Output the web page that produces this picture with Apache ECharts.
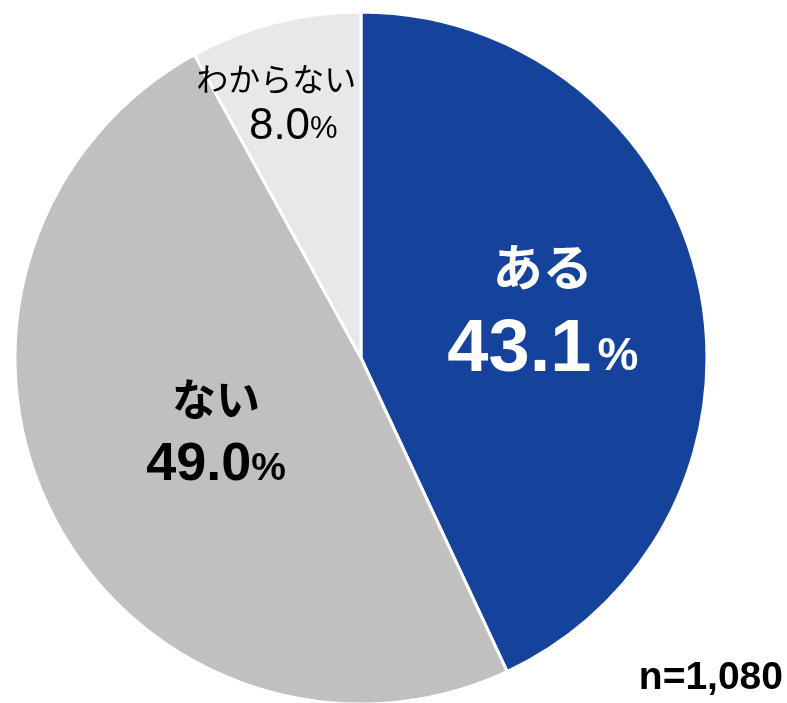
<!DOCTYPE html>
<html>
<head>
<meta charset="utf-8">
<script src="https://cdn.jsdelivr.net/npm/echarts@6/dist/echarts.min.js"></script>
<style>
  html, body { margin: 0; padding: 0; background: #fff; }
  #chart { width: 787px; height: 703px; }
</style>
</head>
<body>
<div id="chart"></div>
<script>
const categories = ['ある', 'ない', 'わからない']
const values = [43.1, 49.0, 8.0]
const colors = ['#15439b', '#c0c0c0', '#e8e8e8']
const sampleNote = 'n=1,080'

const numFont = '"Liberation Sans", Arial, sans-serif'
const jpFont = '"Noto Sans CJK JP", sans-serif'

// per-slice label styles (big / medium / small)
const labelRich = [
  {
    name: { fontFamily: jpFont, fontSize: 50, fontWeight: 'bold', color: '#fff', lineHeight: 84 },
    num: { fontFamily: numFont, fontSize: 74, fontWeight: 'bold', color: '#fff', lineHeight: 84 },
    pct: { fontFamily: numFont, fontSize: 46, fontWeight: 'bold', color: '#fff', lineHeight: 84, padding: [12, 0, 0, 6] }
  },
  {
    name: { fontFamily: jpFont, fontSize: 44, fontWeight: 'bold', color: '#000', lineHeight: 66 },
    num: { fontFamily: numFont, fontSize: 54, fontWeight: 'bold', color: '#000', lineHeight: 66 },
    pct: { fontFamily: numFont, fontSize: 39, fontWeight: 'bold', color: '#000', lineHeight: 66, padding: [8, 0, 0, 0] }
  },
  {
    name: { fontFamily: jpFont, fontSize: 32, color: '#000', lineHeight: 48 },
    num: { fontFamily: numFont, fontSize: 44, color: '#000', lineHeight: 48, padding: [0, 0, 0, 34] },
    pct: { fontFamily: numFont, fontSize: 31, color: '#000', lineHeight: 48, padding: [6, 0, 0, 0] }
  }
]

const data = categories.map((c, i) => ({
  name: c,
  value: values[i],
  itemStyle: { color: colors[i] },
  label: { rich: labelRich[i] }
}))

const chart = echarts.init(document.getElementById('chart'))
chart.setOption({
  animation: false,
  series: [{
    type: 'pie',
    center: [361, 358],
    radius: [0, 346],
    startAngle: 90,
    clockwise: true,
    data: data,
    itemStyle: { borderColor: '#fff', borderWidth: 3 },
    label: {
      show: true,
      position: 'inside',
      align: 'center',
      formatter: p => `{name|${p.name}}\n{num|${p.value.toFixed(1)}}{pct|%}`
    },
    labelLine: { show: false },
    labelLayout: p => {
      if (p.dataIndex === 0) return { dx: 10, dy: -11 }
      if (p.dataIndex === 1) return { dx: 12, dy: -5 }
      return { dx: -41, dy: -85 }
    },
    emphasis: { disabled: true }
  }],
  graphic: [{
    type: 'text',
    right: 4,
    top: 659,
    style: {
      text: sampleNote,
      fontFamily: numFont,
      fontSize: 39,
      fontWeight: 'bold',
      fill: '#000'
    }
  }]
})
window.addEventListener('resize', () => chart.resize())
</script>
</body>
</html>
